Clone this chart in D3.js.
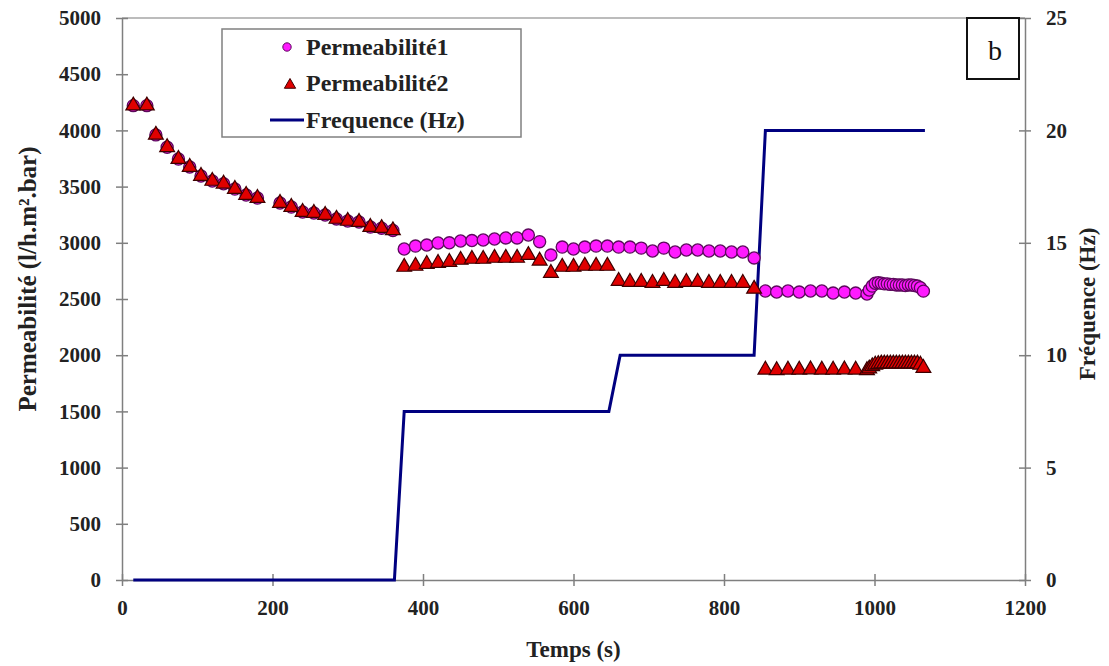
<!DOCTYPE html>
<html><head><meta charset="utf-8">
<script src="https://cdn.jsdelivr.net/npm/d3@7"></script>
<style>body{margin:0;background:#fff}svg{display:block}</style>
</head><body>
<svg id="c" width="1109" height="666"></svg>
<script>
// ---- data ----
const time = [15,33,45,60,75,90,105,120,135,150,165,180,210,225,240,255,270,285,300,315,330,345,360,
  375,390,405,420,435,450,465,480,495,510,525,540,555,570,585,600,615,630,645,660,675,690,705,720,735,750,765,780,795,810,825,840,
  855,870,885,900,915,930,945,960,975,990,
  993,997,1001,1005,1009,1013,1017,1021,1025,1029,1033,1037,1041,1045,1049,1053,1057,1061,1065];
const perm1 = [4220,4220,3960,3850,3745,3674,3594,3550,3525,3478,3425,3398,3354,3318,3274,3265,3247,3212,3194,3185,3140,3130,3110,
  2945,2971,2980,2998,3000,3016,3020,3025,3034,3043,3043,3069,3010,2891,2962,2945,2962,2971,2971,2962,2962,2953,2927,2953,2918,2936,2936,2927,2927,2918,2918,2865,
  2571,2562,2571,2562,2571,2571,2553,2562,2553,2544,
  2580,2615,2640,2645,2640,2635,2635,2630,2630,2625,2625,2625,2620,2625,2625,2620,2615,2600,2570];
const perm2 = [4220,4220,3960,3850,3745,3674,3594,3550,3525,3478,3425,3398,3354,3318,3274,3265,3247,3212,3194,3185,3140,3130,3110,
  2785,2794,2811,2820,2829,2847,2856,2856,2865,2865,2865,2890,2840,2731,2785,2785,2794,2794,2794,2660,2651,2651,2642,2660,2642,2651,2651,2642,2642,2642,2642,2590,
  1870,1865,1870,1870,1872,1870,1870,1872,1870,1865,
  1880,1900,1915,1920,1925,1925,1925,1925,1925,1925,1925,1925,1925,1925,1925,1925,1925,1915,1885];
const freqTime = [15,362,375,647,662,840,855,1067];
const freqVal  = [0,0,7.5,7.5,10,10,20,20];
const xTicks = [0,200,400,600,800,1000,1200];
const yLeftTicks = [0,500,1000,1500,2000,2500,3000,3500,4000,4500,5000];
const yRightTicks = [0,5,10,15,20,25];
const labels = {x:"Temps (s)", yL:"Permeabilité (l/h.m².bar)", yR:"Fréquence (Hz)",
  s1:"Permeabilité1", s2:"Permeabilité2", s3:"Frequence (Hz)", tag:"b"};

// ---- drawing ----
const svg = d3.select("#c");
const L=122, R=1025, T=18, B=580;
const x = d3.scaleLinear([0,1200],[L,R]);
const yL = d3.scaleLinear([0,5000],[B,T]);
const yR = d3.scaleLinear([0,25],[B,T]);
const serif = "'Liberation Serif','Times New Roman',serif";
const axisCol = "#7f7f7f";

// top border
svg.append("line").attr("x1",L).attr("x2",R).attr("y1",T).attr("y2",T)
  .attr("stroke","#a6a6a6").attr("stroke-width",1.5);

function styleAxis(g, orient){
  g.select(".domain").attr("stroke",axisCol).attr("stroke-width",1.5);
  g.selectAll(".tick line").attr("stroke",axisCol).attr("stroke-width",1.5);
  if(orient==="l"||orient==="r") g.selectAll(".tick line").attr("x1",-6).attr("x2",6);
  else g.selectAll(".tick line").attr("y1",-6).attr("y2",6);
  g.selectAll("text").attr("font-family",serif).attr("font-weight","bold")
    .attr("font-size",21).attr("fill","#222");
}
const gx = svg.append("g").attr("transform",`translate(0,${B})`)
  .call(d3.axisBottom(x).tickValues(xTicks).tickFormat(d3.format("d")).tickSizeOuter(0).tickPadding(14));
styleAxis(gx,"b");
const gl = svg.append("g").attr("transform",`translate(${L},0)`)
  .call(d3.axisLeft(yL).tickValues(yLeftTicks).tickFormat(d3.format("d")).tickSizeOuter(0).tickPadding(15));
styleAxis(gl,"l");
const gr = svg.append("g").attr("transform",`translate(${R},0)`)
  .call(d3.axisRight(yR).tickValues(yRightTicks).tickFormat(d3.format("d")).tickSizeOuter(0).tickPadding(15));
styleAxis(gr,"r");

// titles
svg.append("text").attr("x",(L+R)/2).attr("y",657).attr("text-anchor","middle")
  .attr("font-family",serif).attr("font-weight","bold").attr("font-size",23).attr("fill","#222").text(labels.x);
svg.append("text").attr("transform","translate(36,279) rotate(-90)").attr("text-anchor","middle")
  .attr("font-family",serif).attr("font-weight","bold").attr("font-size",25).attr("fill","#222").text(labels.yL);
svg.append("text").attr("transform","translate(1090,304) rotate(-90)").attr("text-anchor","middle")
  .attr("dominant-baseline","middle")
  .attr("font-family",serif).attr("font-weight","bold").attr("font-size",23).attr("fill","#222").text(labels.yR);

// frequency line
const pts = freqTime.map((t,i)=>[t,freqVal[i]]);
svg.append("path").datum(pts)
  .attr("d", d3.line().x(d=>x(d[0])).y(d=>yR(d[1])))
  .attr("fill","none").attr("stroke","#000080").attr("stroke-width",3);

// markers
const circleSym = d3.symbol().type(d3.symbolCircle).size(115);
const triSym = d3.symbol().type(d3.symbolTriangle).size(95);
const data = time.map((t,i)=>({t,p1:perm1[i],p2:perm2[i]}));
svg.append("g").selectAll("path").data(data).join("path")
  .attr("d",circleSym).attr("transform",d=>`translate(${x(d.t)},${yL(d.p1)})`)
  .attr("fill","#ff1aff").attr("stroke","#5c0a5c").attr("stroke-width",1.3);
svg.append("g").selectAll("path").data(data).join("path")
  .attr("d",triSym).attr("transform",d=>`translate(${x(d.t)},${yL(d.p2)})`)
  .attr("fill","#e00000").attr("stroke","#3d0000").attr("stroke-width",1.2);

// legend
const lg = svg.append("g");
lg.append("rect").attr("x",222).attr("y",29).attr("width",299).attr("height",108)
  .attr("fill","#fff").attr("stroke","#808080").attr("stroke-width",1.5);
lg.append("path").attr("d",d3.symbol().type(d3.symbolCircle).size(55)())
  .attr("transform","translate(287,47)").attr("fill","#ff1aff").attr("stroke","#5c0a5c");
lg.append("path").attr("d",d3.symbol().type(d3.symbolTriangle).size(55)())
  .attr("transform","translate(290,85)").attr("fill","#e00000").attr("stroke","#3d0000");
lg.append("line").attr("x1",270).attr("x2",304).attr("y1",120).attr("y2",120)
  .attr("stroke","#000080").attr("stroke-width",3);
[[labels.s1,47],[labels.s2,83],[labels.s3,120]].forEach(([s,yy])=>{
  lg.append("text").attr("x",306).attr("y",yy).attr("dy","0.35em")
    .attr("font-family",serif).attr("font-weight","bold").attr("font-size",24).attr("fill","#222").text(s);
});

// tag box
svg.append("rect").attr("x",967).attr("y",18).attr("width",52).attr("height",61)
  .attr("fill","#fff").attr("stroke","#111").attr("stroke-width",2);
svg.append("text").attr("x",995).attr("y",50).attr("dy","0.35em").attr("text-anchor","middle")
  .attr("font-family",serif).attr("font-size",28).attr("fill","#111").text(labels.tag);
</script>
</body></html>
